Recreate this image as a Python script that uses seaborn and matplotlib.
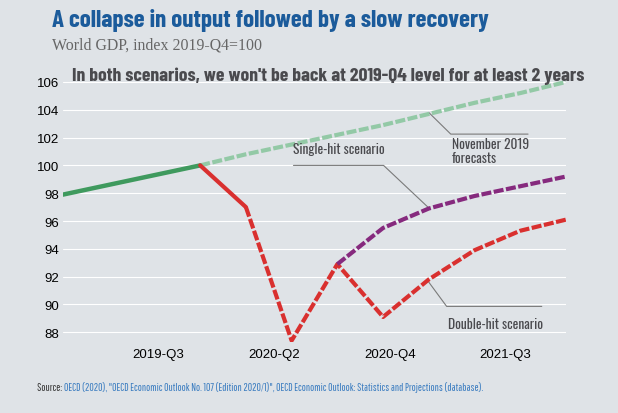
import matplotlib
matplotlib.use("Agg")
import matplotlib.pyplot as plt
import seaborn as sns
import pandas as pd

# ===================== Data =====================
quarters = ["2019-Q1", "2019-Q2", "2019-Q3", "2019-Q4",
            "2020-Q1", "2020-Q2", "2020-Q3", "2020-Q4",
            "2021-Q1", "2021-Q2", "2021-Q3", "2021-Q4"]

history_q = quarters[0:4]
history = [97.9, 98.6, 99.3, 100.0]

forecast_q = quarters[3:12]
nov2019_forecast = [100.0, 100.8, 101.5, 102.2, 102.9, 103.7, 104.5, 105.2, 106.0]

double_q = quarters[3:12]
double_hit = [100.0, 97.0, 87.4, 92.9, 89.1, 91.8, 93.9, 95.3, 96.1]

single_q = quarters[6:12]
single_hit = [92.9, 95.5, 96.9, 97.8, 98.5, 99.2]

tick_labels = ["2019-Q3", "2020-Q2", "2020-Q4", "2021-Q3"]
y_ticks = [88, 90, 92, 94, 96, 98, 100, 102, 104, 106]


def to_df(qs, vals):
    return pd.DataFrame({"x": [quarters.index(q) for q in qs], "value": vals})


hist_df = to_df(history_q, history)
fc_df = to_df(forecast_q, nov2019_forecast)
dh_df = to_df(double_q, double_hit)
sh_df = to_df(single_q, single_hit)

# ===================== Fonts / colours =====================
HEAD = ["Barlow Condensed", "DejaVu Sans"]
LABEL = ["Oswald", "DejaVu Sans"]
SMALL = ["Pathway Gothic One", "DejaVu Sans"]

BG = "#dfe3e7"
TITLE_BLUE = "#1b5b9b"
DARK = "#4a4a4e"
GREEN = "#3f9a5e"
LIGHT_GREEN = "#93c9a6"
RED = "#d9302f"
PURPLE = "#862a7e"
LEADER = "#7a7a7a"

sns.set_theme(style="white")
plt.rcParams["font.family"] = ["Liberation Sans", "DejaVu Sans"]

fig = plt.figure(figsize=(6.18, 4.14), dpi=100, facecolor=BG)
ax = fig.add_axes([63 / 618, 0.1715, (566 - 63) / 618, 0.6382])
ax.set_facecolor(BG)

# ===================== Lines =====================
dash = (0, (2.4, 0.6))
sns.lineplot(data=fc_df, x="x", y="value", ax=ax, color=LIGHT_GREEN,
             lw=3.0, linestyle=dash, zorder=2)
sns.lineplot(data=hist_df, x="x", y="value", ax=ax, color=GREEN,
             lw=3.2, zorder=3)
sns.lineplot(data=dh_df.iloc[:2], x="x", y="value", ax=ax, color=RED,
             lw=3.0, zorder=4)
sns.lineplot(data=dh_df.iloc[1:], x="x", y="value", ax=ax, color=RED,
             lw=3.0, linestyle=dash, zorder=4)
sns.lineplot(data=sh_df, x="x", y="value", ax=ax, color=PURPLE,
             lw=3.0, linestyle=dash, zorder=5)

# ===================== Axes styling =====================
ax.set_xlim(0, len(quarters) - 1)
ax.set_ylim(87.3, 106.3)
ax.set_yticks(y_ticks)
ax.set_xticks([2.08, 4.62, 7.15, 9.68])
ax.set_xticklabels(tick_labels)
ax.set_xlabel("")
ax.set_ylabel("")
ax.grid(axis="y", color="white", lw=0.8, zorder=0)
ax.grid(axis="x", visible=False)
for s in ax.spines.values():
    s.set_visible(False)
ax.tick_params(axis="y", length=0, pad=2.5, labelsize=9.5, labelcolor="black")
ax.tick_params(axis="x", length=0, pad=4, labelsize=9.5, labelcolor="black")

# ===================== Labels with leader lines =====================
lab_kw = dict(family=LABEL, fontsize=9, color=DARK)

t_single = ax.text(5.04, 101.25, "Single-hit scenario", va="center",
                   ha="left", **lab_kw)
ax.plot([5.04, 7.01, 7.98], [100.0, 100.0, 97.0], color=LEADER, lw=0.8,
        zorder=1.5)

t_nov = ax.text(8.5, 102.05, "November 2019\nforecasts", va="top", ha="left",
                linespacing=1.1, **lab_kw)
ax.plot([10.17, 8.48, 8.0], [102.25, 102.25, 103.8], color=LEADER, lw=0.8,
        zorder=1.5)

t_double = ax.text(8.41, 88.6, "Double-hit scenario", va="center", ha="left",
                   **lab_kw)
ax.plot([10.47, 8.39, 8.0], [89.86, 89.86, 91.6], color=LEADER, lw=0.8,
        zorder=1.5, clip_on=False)

# ===================== Titles / notes =====================
title = fig.text(52 / 618, 1 - 27 / 414,
                 "A collapse in output followed by a slow recovery",
                 family=HEAD, weight="bold", fontsize=15, color=TITLE_BLUE,
                 va="baseline", ha="left")
subtitle = fig.text(52 / 618, 1 - 49 / 414, "World GDP, index 2019-Q4=100",
                    family=["Liberation Serif", "DejaVu Serif"], fontsize=11,
                    color="#666666", va="baseline", ha="left")
note = fig.text(72 / 618, 1 - 81 / 414,
                "In both scenarios, we won't be back at 2019-Q4 level for at least 2 years",
                family=HEAD, weight="bold", fontsize=12.5, color=DARK,
                va="baseline", ha="left", zorder=6)

src = fig.text(37 / 618, 1 - 391 / 414, "Source: ", family=SMALL, fontsize=6,
               color="#333333", va="baseline", ha="left")
src_body = ax.annotate(
    "OECD (2020), \"OECD Economic Outlook No. 107 (Edition 2020/1)\", "
    "OECD Economic Outlook: Statistics and Projections (database).",
    xy=(1, 0), xycoords=src, va="bottom", ha="left",
    family=SMALL, fontsize=6, color="#3a7cc0", annotation_clip=False)


# ===================== Fit text widths to the reference =====================
def fit(txt, width_px):
    r = fig.canvas.get_renderer()
    w = txt.get_window_extent(r).width
    txt.set_fontsize(txt.get_fontsize() * width_px / w)


fig.canvas.draw()
fit(title, 437)
fit(subtitle, 209)
fit(note, 511)
fit(t_single, 91)
t_nov.set_fontsize(t_single.get_fontsize())
t_double.set_fontsize(t_single.get_fontsize())
fig.canvas.draw()
# scale both source parts together so the whole line spans the reference width
r = fig.canvas.get_renderer()
total = src_body.get_window_extent(r).x1 - src.get_window_extent(r).x0
k = 448 / total
src.set_fontsize(6 * k)
src_body.set_fontsize(6 * k)

fig.savefig("out.png", dpi=100, facecolor=BG)
